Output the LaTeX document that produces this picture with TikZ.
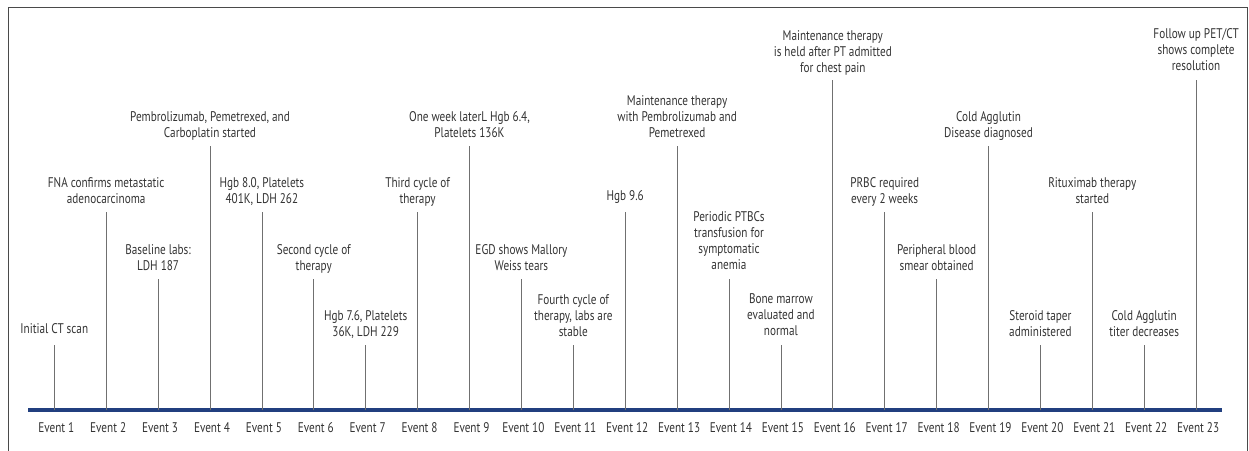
\documentclass[tikz,border=0pt]{standalone}
\usepackage{fontspec}
\setmainfont{PT Sans}[FakeStretch=0.80]
\usetikzlibrary{positioning}

\definecolor{axisblue}{HTML}{213F7F}
\definecolor{stemgray}{HTML}{707070}
\definecolor{framegray}{HTML}{4A4A4A}
\definecolor{textgray}{HTML}{333333}

\tikzset{
  desc/.style={align=center, inner sep=0pt, text depth=0pt, text=textgray,
    font=\fontsize{14}{16}\selectfont},
  evlabel/.style={inner sep=0pt, text=textgray, font=\fontsize{14}{16}\selectfont},
  stem/.style={stemgray, line width=0.8pt}
}

\begin{document}
\begin{tikzpicture}[x=1pt, y=-1pt] % one unit is one pixel of the picture, y runs downwards
  % Axis height and spacing of the events
  \def\axisY{410.3}
  \def\evGap{51.9}

  \useasboundingbox (0,0) rectangle (1249,450);

  % Frame, open at the bottom edge of the picture
  \draw[framegray, line width=0.8pt] (8.3,452) -- (8.3,7.3) -- (1247,7.3) -- (1247,452);

  % Time axis
  \coordinate (axL) at (28,\axisY);
  \coordinate (axR) at (1222,\axisY);
  \draw[axisblue, line width=4pt] (axL) -- (axR);

  % Stems with their description and the event label below the axis
  \foreach \i/\top/\gap/\txt in {
      1/345/11/{Initial CT scan},
      2/212/8/{FNA confirms metastatic\\adenocarcinoma},
      3/279/8/{Baseline labs:\\LDH 187},
      4/146/8/{Pembrolizumab, Pemetrexed, and\\Carboplatin started},
      5/212/8/{Hgb 8.0, Platelets\\401K, LDH 262},
      6/279/8/{Second cycle of\\therapy},
      7/345/8/{Hgb 7.6, Platelets\\36K, LDH 229},
      8/212/8/{Third cycle of\\therapy},
      9/146/8/{One week laterL Hgb 6.4,\\Platelets 136K},
      10/279/8/{EGD shows Mallory\\Weiss tears},
      11/345/8/{Fourth cycle of\\therapy, labs are\\stable},
      12/212/11/{Hgb 9.6},
      13/146/8/{Maintenance therapy\\with Pembrolizumab and\\Pemetrexed},
      14/279/9/{Periodic PTBCs\\transfusion for\\symptomatic\\anemia},
      15/345/9/{Bone marrow\\evaluated and\\normal},
      16/80/7/{Maintenance therapy\\is held after PT admitted\\for chest pain},
      17/212/8/{PRBC required\\every 2 weeks},
      18/279/8/{Peripheral blood\\smear obtained},
      19/146/8/{Cold Agglutin\\Disease diagnosed},
      20/345/8/{Steroid taper\\administered},
      21/212/8/{Rituximab therapy\\started},
      22/345/8/{Cold Agglutin\\titer decreases},
      23/80/9/{Follow up PET/CT\\shows complete\\resolution}} {
    \coordinate (a\i) at ({54.3+(\i-1)*\evGap},\axisY);
    \coordinate (t\i) at ({54.3+(\i-1)*\evGap},\top);
    \draw[stem] (a\i) -- (t\i);
    \node[desc, above=\gap pt of t\i] (d\i) {\txt};
    \node[evlabel, anchor=base] (e\i) at ([xshift=2pt, yshift=-22.4pt]a\i) {Event \i};
  }
\end{tikzpicture}
\end{document}
